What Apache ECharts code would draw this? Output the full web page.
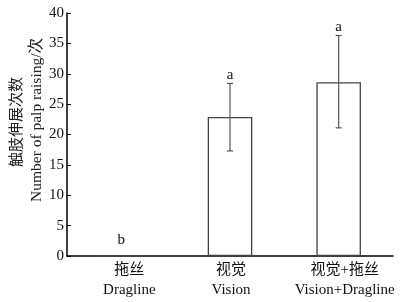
<!DOCTYPE html>
<html>
<head>
<meta charset="utf-8">
<script src="https://cdn.jsdelivr.net/npm/echarts@6/dist/echarts.min.js"></script>
<style>
  html, body { margin: 0; padding: 0; background: #fff; }
  #chart { width: 403px; height: 302px; }
</style>
</head>
<body>
<div id="chart"></div>
<script>
const categories = ['拖丝\nDragline', '视觉\nVision', '视觉+拖丝\nVision+Dragline'];
const means = [0, 22.9, 28.6];
const errLow = [null, 17.3, 21.1];
const errHigh = [null, 28.4, 36.3];
const letters = ['b', 'a', 'a'];
const letterAt = [1.3, 28.4, 36.3];
const yNameCn = '触肢伸展次数';
const yNameEn = 'Number of palp raising/次';

const font = '"Liberation Serif", "Times New Roman", "Noto Sans CJK SC", serif';

const chart = echarts.init(document.getElementById('chart'));

chart.setOption({
  animation: false,
  grid: { left: 67, right: 10, top: 13, bottom: 46, outerBoundsMode: 'none', containLabel: false },
  graphic: [
    {
      type: 'text', x: 17, y: 122, rotation: Math.PI / 2,
      style: { text: yNameCn, fill: '#222', font: '15px ' + font, align: 'center', verticalAlign: 'middle' }
    },
    {
      type: 'text', x: 37, y: 120, rotation: Math.PI / 2,
      style: { text: yNameEn, fill: '#222', font: '15.5px ' + font, align: 'center', verticalAlign: 'middle' }
    }
  ],
  xAxis: {
    type: 'category',
    data: categories,
    axisLine: { lineStyle: { color: '#000', width: 1.5 } },
    axisTick: { show: false },
    axisLabel: {
      interval: 0, color: '#111', fontFamily: font, fontSize: 15, lineHeight: 20, margin: 4,
      formatter: function (v, i) {
        const tag = ['p0', 'p1', 'p2'][i];
        return v.split('\n').map(s => '{' + tag + '|' + s + '}').join('\n');
      },
      rich: {
        p0: { fontFamily: font, fontSize: 15, lineHeight: 20, color: '#111', padding: [0, 0, 0, 16] },
        p1: { fontFamily: font, fontSize: 15, lineHeight: 20, color: '#111', padding: [0, 0, 0, 2] },
        p2: { fontFamily: font, fontSize: 15, lineHeight: 20, color: '#111', padding: [0, 0, 0, 12] }
      }
    }
  },
  yAxis: {
    type: 'value',
    min: 0,
    max: 40,
    interval: 5,
    splitLine: { show: false },
    axisLine: { show: true, lineStyle: { color: '#000', width: 1.5 } },
    axisTick: { show: true, inside: true, length: 4, lineStyle: { color: '#000' } },
    axisLabel: { color: '#111', fontFamily: font, fontSize: 15, margin: 3 }
  },
  series: [
    {
      type: 'bar',
      data: means,
      barWidth: '41%',
      z: 2,
      itemStyle: { color: '#fff', borderColor: '#444', borderWidth: 1.3 }
    },
    {
      type: 'custom',
      z: 5,
      data: means.map((m, i) => [i, errLow[i], errHigh[i], letterAt[i]]),
      renderItem: function (params, api) {
        const i = api.value(0);
        const children = [];
        const lt = api.coord([i, api.value(3)]);
        if (errLow[i] !== null) {
          const lo = api.coord([i, api.value(1)]);
          const hi = api.coord([i, api.value(2)]);
          const style = { stroke: '#555', lineWidth: 1.2 };
          children.push(
            { type: 'line', shape: { x1: lo[0], y1: lo[1], x2: hi[0], y2: hi[1] }, style },
            { type: 'line', shape: { x1: lo[0] - 3, y1: lo[1], x2: lo[0] + 3, y2: lo[1] }, style },
            { type: 'line', shape: { x1: hi[0] - 3, y1: hi[1], x2: hi[0] + 3, y2: hi[1] }, style }
          );
        }
        children.push({
          type: 'text',
          x: lt[0],
          y: lt[1] - 1,
          style: {
            text: letters[i],
            fill: '#111',
            font: '15px ' + font,
            align: 'center',
            verticalAlign: 'bottom'
          }
        });
        return { type: 'group', children };
      }
    }
  ]
});
</script>
</body>
</html>
